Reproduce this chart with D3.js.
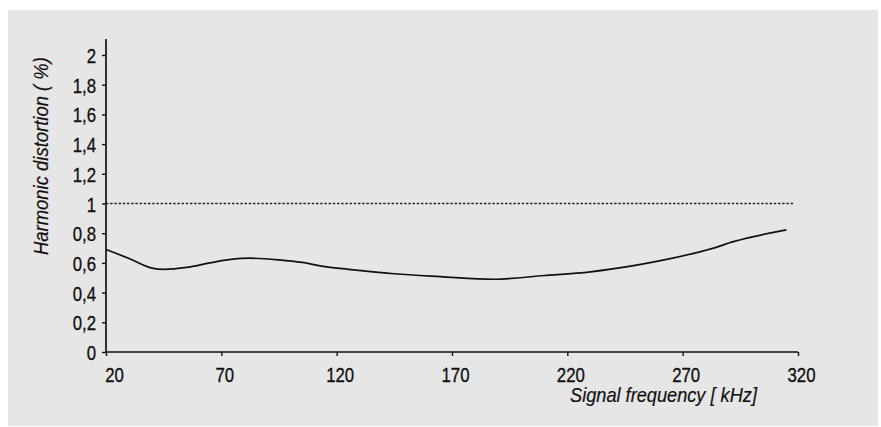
<!DOCTYPE html>
<html>
<head>
  <script src="https://d3js.org/d3.v7.min.js"></script>
  <style>
    body { margin: 0; background: #fff; }
    text { font-family: "Liberation Sans", Arial, sans-serif; fill: #111; stroke: #111; stroke-width: 0.35px; }
  </style>
</head>
<body>
  <script>
    // Data
    const freq = [20, 30, 40, 45, 55, 65, 75, 82, 95, 105, 115, 125, 145, 165, 188, 210, 230, 250, 262, 283, 292, 315];
    const distortion = [0.69, 0.63, 0.565, 0.557, 0.57, 0.60, 0.625, 0.632, 0.62, 0.603, 0.575, 0.557, 0.527, 0.508, 0.49, 0.515, 0.54, 0.585, 0.62, 0.698, 0.743, 0.822];
    const xTicks = [20, 70, 120, 170, 220, 270, 320];
    const yTicks = [0, 0.2, 0.4, 0.6, 0.8, 1, 1.2, 1.4, 1.6, 1.8, 2];
    const limit = 1;

    const W = 881, H = 427;
    const SX = 0.8; // squeeze text to look like a condensed face

    const svg = d3.select("body").append("svg")
      .attr("width", W)
      .attr("height", H);

    // grey panel
    svg.append("rect")
      .attr("x", 8).attr("y", 10)
      .attr("width", 870).attr("height", 416)
      .attr("fill", "#e6e6e6");

    const x = d3.scaleLinear().domain([20, 320]).range([106, 798]);
    const y = d3.scaleLinear().domain([0, 2]).range([352, 55]);

    const fmt = d => String(d).replace(".", ",");

    // squeeze tick labels horizontally, keeping their position
    function condense(sel) {
      sel.each(function() {
        const t = d3.select(this);
        const ox = +t.attr("x") || 0;
        const odx = parseFloat(t.attr("dx")) || 0;
        t.attr("x", ox / SX).attr("dx", odx / SX)
          .attr("transform", `scale(${SX},1)`);
      });
    }

    // Y axis
    const yAxis = svg.append("g")
      .attr("transform", "translate(106,0)")
      .call(d3.axisLeft(y).tickValues(yTicks).tickSize(4).tickPadding(6).tickFormat(fmt));
    yAxis.select(".domain").remove();
    yAxis.append("line")
      .attr("x1", 0).attr("x2", 0)
      .attr("y1", 39).attr("y2", 352)
      .attr("stroke", "#111").attr("stroke-width", 1.7);
    yAxis.selectAll(".tick line").attr("stroke", "#111").attr("stroke-width", 1.4);
    yAxis.selectAll(".tick text")
      .style("font-size", "21px")
      .attr("dy", "0.36em")
      .attr("fill", "#111")
      .call(condense);

    // X axis
    const xAxis = svg.append("g")
      .attr("transform", "translate(0,352)")
      .call(d3.axisBottom(x).tickValues(xTicks).tickSize(4).tickPadding(11).tickFormat(d => d));
    xAxis.select(".domain")
      .attr("d", `M${x(20)},0H${x(320)}`)
      .attr("stroke", "#111").attr("stroke-width", 1.7);
    xAxis.selectAll(".tick line").attr("stroke", "#111").attr("stroke-width", 1.4);
    xAxis.selectAll(".tick text")
      .style("font-size", "21px")
      .attr("fill", "#111")
      .attr("dx", d => d === 20 ? 8 : 3)
      .call(condense);

    // dotted limit line
    svg.append("line")
      .attr("x1", x(20)).attr("x2", x(318))
      .attr("y1", y(limit)).attr("y2", y(limit))
      .attr("stroke", "#222")
      .attr("stroke-width", 1.6)
      .attr("stroke-dasharray", "2.4,1.8");

    // distortion curve
    const pts = freq.map((f, i) => [f, distortion[i]]);
    svg.append("path")
      .datum(pts)
      .attr("fill", "none")
      .attr("stroke", "#111")
      .attr("stroke-width", 1.7)
      .attr("d", d3.line()
        .x(d => x(d[0]))
        .y(d => y(d[1]))
        .curve(d3.curveMonotoneX));

    // axis titles, squeezed to the reference widths
    function fitTitle(t, target) {
      const len = t.node().getComputedTextLength();
      return target / len;
    }

    const xt = svg.append("text")
      .attr("text-anchor", "start")
      .style("font-size", "20px")
      .style("font-style", "italic")
      .style("stroke-width", "0.2px")
      .text("Signal frequency [ kHz]");
    const sx1 = fitTitle(xt, 187);
    xt.attr("transform", `translate(570,402) scale(${sx1},1)`);

    const yt = svg.append("text")
      .attr("text-anchor", "start")
      .style("font-size", "20px")
      .style("font-style", "italic")
      .style("stroke-width", "0.2px")
      .text("Harmonic distortion ( %)");
    const sx2 = fitTitle(yt, 198);
    yt.attr("transform", `translate(48,255) rotate(-90) scale(${sx2},1)`);
  </script>
</body>
</html>
